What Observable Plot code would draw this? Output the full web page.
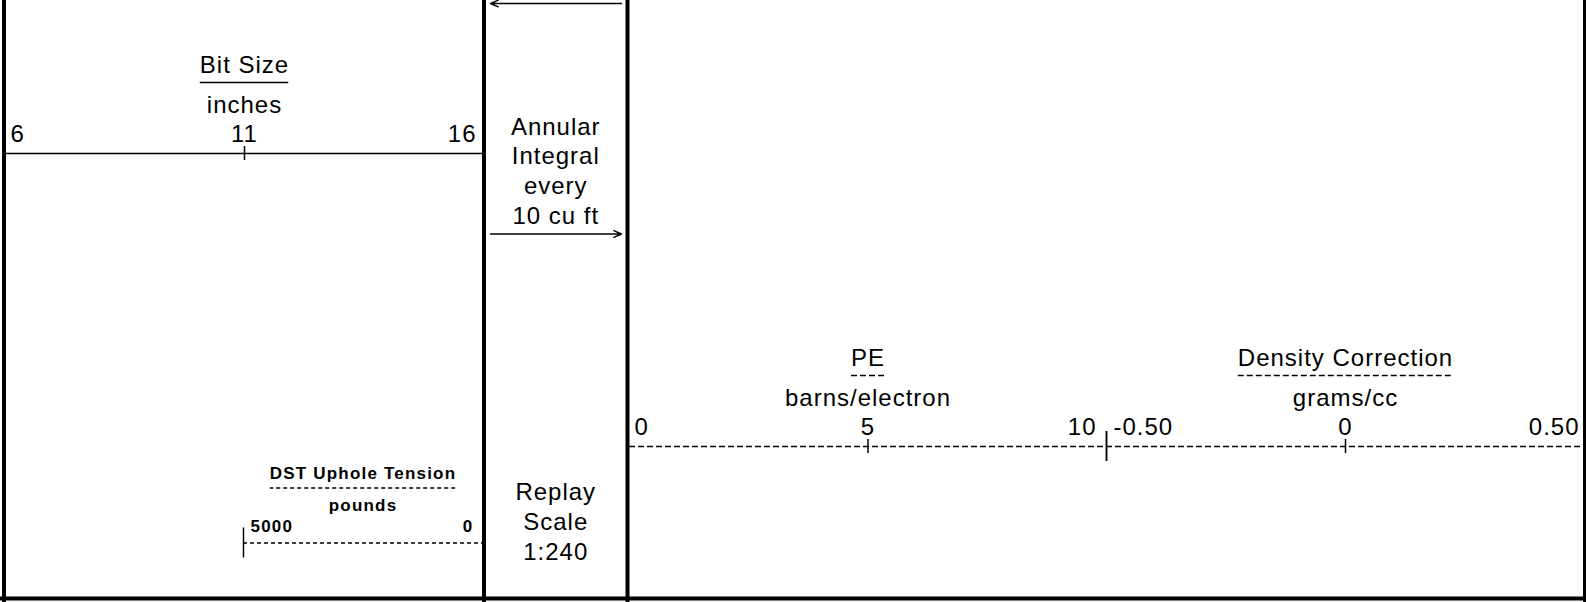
<!DOCTYPE html>
<html><head><meta charset="utf-8">
<script src="https://cdn.jsdelivr.net/npm/d3@7"></script>
<script src="https://cdn.jsdelivr.net/npm/@observablehq/plot@0.6"></script>
<style>
html,body{margin:0;padding:0;background:#fff;}
#chart{position:relative;width:1586px;height:602px;overflow:hidden;background:#fff;}
#chart svg{position:absolute;left:0;top:0;}
</style></head><body><div id="chart"></div>
<script>
// ---------- data ----------
const bitSizeTicks = [6, 11, 16];
const bitSizeLabels = ["6", "11", "16"];
const peTicks = [0, 5, 10];
const peLabels = ["0", "5", "10"];
const densityTicks = [-0.5, 0, 0.5];
const densityLabels = ["-0.50", "0", "0.50"];
const dstTicks = [5000, 0];
const dstLabels = ["5000", "0"];
const curveTitles = ["Bit Size", "PE", "Density Correction", "DST Uphole Tension"];
const curveUnits = ["inches", "barns/electron", "grams/cc", "pounds"];
const annularLines = ["Annular", "Integral", "every", "10 cu ft"];
const replayLines = ["Replay", "Scale", "1:240"];

// ---------- layout ----------
const W = 1586, H = 602;
const FONT = "'Liberation Sans', Arial, sans-serif";
const L = {
  borders: [3.5, 483.5, 627, 1584.5],
  bottom: 598,
  track1: [5, 483],
  track3: [629, 1106, 1584],
  dstRange: [243, 482]
};
const chart = document.getElementById("chart");

function textWidth(str, size, weight, ls) {
  const ctx = textWidth.ctx || (textWidth.ctx = document.createElement("canvas").getContext("2d"));
  ctx.font = `${weight} ${size}px "Liberation Sans"`;
  return ctx.measureText(str).width + ls * (str.length - 1);
}

function track(s) {
  const rows = s.ticks.map((v, i) => ({v, label: s.labels[i]}));
  const first = rows[0], last = rows[rows.length - 1], inner = rows.slice(1, -1);
  const big = rows.filter((r, i) => s.bigEnds.includes(i === 0 ? "first" : i === rows.length - 1 ? "last" : ""));
  const mid = (s.domain[0] + s.domain[1]) / 2;
  const k = Math.abs(s.domain[1] - s.domain[0]) / Math.abs(s.range[1] - s.range[0]);
  const half = textWidth(s.title, s.size, s.weight, s.ls) / 2 * k;
  const txt = {fontFamily: FONT, fontSize: s.size, fontWeight: s.weight, lineAnchor: "bottom", fill: "black"};
  const o = s.off;
  const svg = Plot.plot({
    width: W, height: H, margin: 0,
    x: {domain: s.domain, range: s.range, axis: null},
    y: {domain: [0, H], range: [0, H], axis: null},
    style: {background: "transparent"},
    marks: [
      Plot.ruleY([s.axisY], {x1: s.domain[0], x2: s.domain[1], stroke: "black", strokeWidth: 1.5, strokeDasharray: s.dash}),
      Plot.ruleX(inner, {x: "v", y1: s.axisY - 7, y2: s.axisY + 7, stroke: "black", strokeWidth: 1.5}),
      Plot.ruleX(big, {x: "v", y1: s.axisY - 15, y2: s.axisY + 15, stroke: "black", strokeWidth: 1.5}),
      Plot.text([first], {...txt, x: "v", y: s.axisY - o.label, text: "label", textAnchor: "start", dx: s.startDx}),
      Plot.text(inner, {...txt, x: "v", y: s.axisY - o.label, text: "label", textAnchor: "middle"}),
      Plot.text([last], {...txt, x: "v", y: s.axisY - o.label, text: "label", textAnchor: "end", dx: s.endDx}),
      Plot.text([s.unit], {...txt, x: mid, y: s.axisY - o.unit, text: d => d, textAnchor: "middle"}),
      Plot.ruleY([s.axisY - o.underline], {x1: mid - half, x2: mid + half, stroke: "black", strokeWidth: 1.5, strokeDasharray: s.underlineDash}),
      Plot.text([s.title], {...txt, x: mid, y: s.axisY - o.title, text: d => d, textAnchor: "middle"})
    ]
  });
  d3.select(svg).selectAll("text").style("letter-spacing", s.ls + "px");
  chart.appendChild(svg);
}

// frame, arrows and centre-column notes
const frameTxt = {fontFamily: FONT, fontSize: 24, lineAnchor: "bottom", textAnchor: "middle", fill: "black", lineHeight: 1.235};
const colMid = (L.borders[1] + L.borders[2]) / 2;
const frame = Plot.plot({
  width: W, height: H, margin: 0,
  x: {domain: [0, W], range: [0, W], axis: null},
  y: {domain: [0, H], range: [0, H], axis: null},
  style: {background: "white"},
  marks: [
    Plot.arrow([0], {x1: 621, y1: 3, x2: 490, y2: 3, stroke: "black", strokeWidth: 1.4, headLength: 9, headAngle: 46}),
    Plot.arrow([0], {x1: 490, y1: 233.5, x2: 621, y2: 233.5, stroke: "black", strokeWidth: 1.4, headLength: 9, headAngle: 46}),
    Plot.text([annularLines.join("\n")], {...frameTxt, x: colMid, y: 223, text: d => d}),
    Plot.text([replayLines.join("\n")], {...frameTxt, x: colMid, y: 559, text: d => d})
  ]
});
d3.select(frame).selectAll("text").style("letter-spacing", "1px");
chart.appendChild(frame);

const std = {size: 24, weight: "normal", ls: 1, off: {label: 11.5, unit: 41, underline: 71, title: 81}};
track({...std, domain: [6, 16], range: L.track1, ticks: bitSizeTicks, labels: bitSizeLabels, bigEnds: [],
  title: curveTitles[0], unit: curveUnits[0], axisY: 153, dash: null, underlineDash: null, startDx: 5, endDx: -7});
track({...std, domain: [0, 10], range: [L.track3[0], L.track3[1]], ticks: peTicks, labels: peLabels, bigEnds: ["last"],
  title: curveTitles[1], unit: curveUnits[1], axisY: 446, dash: "6,3", underlineDash: "6,3", startDx: 5, endDx: -10});
track({...std, domain: [-0.5, 0.5], range: [L.track3[1], L.track3[2]], ticks: densityTicks, labels: densityLabels, bigEnds: ["first"],
  title: curveTitles[2], unit: curveUnits[2], axisY: 446, dash: "6,3", underlineDash: "6,3", startDx: 7, endDx: -5});
track({size: 17, weight: "bold", ls: 1.2, off: {label: 11, unit: 32, underline: 55, title: 64}, bigEnds: ["first"],
  domain: [5000, 0], range: L.dstRange, ticks: dstTicks, labels: dstLabels,
  title: curveTitles[3], unit: curveUnits[3], axisY: 542.5, dash: "4,3", underlineDash: "4,3", startDx: 7, endDx: -9});

// frame borders drawn last, on top of the track axes
const borders = Plot.plot({
  width: W, height: H, margin: 0,
  x: {domain: [0, W], range: [0, W], axis: null},
  y: {domain: [0, H], range: [0, H], axis: null},
  style: {background: "transparent"},
  marks: [
    Plot.ruleX(L.borders, {y1: 0, y2: H, stroke: "black", strokeWidth: 4}),
    Plot.ruleY([L.bottom], {x1: 0, x2: W, stroke: "black", strokeWidth: 4})
  ]
});
chart.appendChild(borders);
</script></body></html>
